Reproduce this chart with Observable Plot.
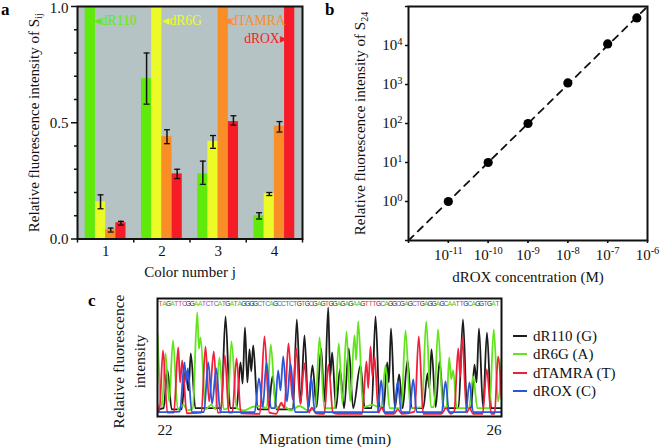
<!DOCTYPE html>
<html>
<head>
<meta charset="utf-8">
<script src="https://cdn.jsdelivr.net/npm/d3@7"></script>
<script src="https://cdn.jsdelivr.net/npm/@observablehq/plot@0.6"></script>
<style>
html,body{margin:0;padding:0;background:#fff;}
#root{position:relative;width:661px;height:447px;overflow:hidden;font-family:"Liberation Serif",serif;color:#111;}
#root svg{position:absolute;overflow:visible;background:transparent;}
.pl{position:absolute;font:bold 17px "Liberation Serif",serif;color:#000;}
.lg{position:absolute;left:533px;font-size:15px;line-height:16px;white-space:nowrap;}
.sw{position:absolute;left:513px;width:14px;height:2px;}
</style>
</head>
<body>
<div id="root"></div>
<script>
// ---------- panel a ----------
const colorNumbers = [1, 2, 3, 4];
const dyes = ["dR110", "dR6G", "dTAMRA", "dROX"];
const dyeColors = ["#5fea0c", "#ecfb28", "#f98e27", "#f61c27"];
const r110Vals = [1, 0.69, 0.28, 0.10];
const r110Low = [null, 0.58, 0.235, 0.086];
const r110High = [null, 0.80, 0.335, 0.113];
const r6gVals = [0.16, 1, 0.42, 0.195];
const r6gLow = [0.13, null, 0.39, 0.187];
const r6gHigh = [0.19, null, 0.445, 0.20];
const tamraVals = [0.04, 0.44, 1, 0.485];
const tamraLow = [0.03, 0.41, null, 0.46];
const tamraHigh = [0.047, 0.47, null, 0.505];
const roxVals = [0.07, 0.28, 0.505, 1];
const roxLow = [0.06, 0.26, 0.49, null];
const roxHigh = [0.076, 0.30, 0.53, null];
const yMajor = [0, 0.5, 1];
const yMinor = [0.1, 0.2, 0.3, 0.4, 0.6, 0.7, 0.8, 0.9];
const groupEdges = [0.5, 1.5, 2.5, 3.5, 4.5];
const dyeNotes = ["◂dR110", "◂dR6G", "◂dTAMRA", "dROX▸"];
const noteGroups = [1.17, 2.36, 3.65, 3.84];
const noteLevels = [0.94, 0.94, 0.94, 0.862];

// ---------- panel b ----------
const concentrations = [1e-11, 1e-10, 1e-9, 1e-8, 1e-7, 5.4e-7];
const intensities = [1, 10, 100, 1100, 11000, 51000];
const fitX = [1e-12, 1e-6];
const fitY = [0.1, 1e5];
const xDecades = [1e-12, 1e-11, 1e-10, 1e-9, 1e-8, 1e-7, 1e-6];
const xLabelled = [1e-11, 1e-10, 1e-9, 1e-8, 1e-7, 1e-6];
const yDecades = [0.1, 1, 10, 100, 1000, 1e4, 1e5];
const yLabelled = [1, 10, 100, 1000, 1e4];

// ---------- panel c ----------
const sequence = "TAGATTCGGAATCTCATGATAGGGGCTCAGCCTCTGTGCGAGTGGAGAGAAGTTTGCAGGCGAGCTGAGGAGCAATTGCAGGTGAT";
const traceNames = ["dR110 (G)", "dR6G (A)", "dTAMRA (T)", "dROX (C)"];
const traceColors = ["#1c1c1c", "#62e41c", "#f01f3c", "#2a56dc"];
const baseColors = {G: "#222", A: "#4fc81c", T: "#ee2a44", C: "#2f62dc"};
const blackT = [22,22.07,22.116,22.165,22.28,22.326,22.36,22.387,22.44,22.74,22.791,22.845,22.92,22.965,22.99,23.017,23.045,23.07,23.09,23.113,23.165,23.29,23.337,23.385,23.575,23.62,23.665,23.709,23.755,23.802,23.85,23.903,23.94,23.985,24.008,24.031,24.075,24.122,24.17,24.224,24.275,24.36,24.41,24.49,24.535,24.585,24.63,24.671,24.69,24.715,24.76,24.81,24.85,24.907,24.955,25.09,25.14,25.16,25.186,25.235,25.28,25.33,25.5,25.552,25.6,25.645,25.686,25.71,25.738,25.785,25.831,25.88,26];
const blackV = [0.01,0.02,0.357,0.01,0.01,0.357,0.18,0.509,0.02,0.02,0.839,0.02,0.02,0.429,0.24,0.741,0.25,0.545,0.35,0.58,0.01,0.01,0.304,0.01,0.01,0.8125,0.06,0.67,0.02,0.402,0.03,0.554,0.08,0.92,0.3,0.518,0.02,0.366,0.02,0.554,0.02,0.402,0.02,0.02,0.839,0.02,0.03,0.429,0.25,0.732,0.02,0.321,0.02,0.446,0.02,0.02,0.33,0.2,0.545,0.03,0.4375,0.02,0.02,0.8125,0.02,0.02,0.41,0.25,0.732,0.03,0.696,0.02,0.02];
const greenT = [22,22.05,22.093,22.135,22.18,22.235,22.3,22.35,22.41,22.462,22.482,22.5,22.56,22.62,22.675,22.72,22.77,22.815,22.86,22.92,23,23.1,23.2,23.27,23.317,23.375,23.45,23.55,23.65,23.75,23.835,23.884,23.94,24.06,24.108,24.15,24.198,24.24,24.29,24.31,24.334,24.39,24.5,24.6,24.651,24.7,24.835,24.884,24.94,25.075,25.124,25.18,25.215,25.262,25.32,25.36,25.392,25.415,25.438,25.48,25.62,25.671,25.72,25.86,25.91,25.96,26];
const greenV = [0.6875,0.03,0.509,0.08,0.625,0.01,0.05,0,0.02,0.875,0.55,0.652,0.01,0.05,0.01,0.473,0.01,0.02,0.616,0.02,0,0.03,0.04,0.02,0.589,0.02,0.05,0,0.04,0,0.02,0.652,0.02,0.02,0.598,0.06,0.705,0.08,0.67,0.45,0.795,0.03,0.05,0.02,0.402,0.02,0.02,0.714,0.02,0.03,0.795,0.03,0.03,0.723,0.02,0.03,0.473,0.28,0.357,0.02,0.02,0.304,0.02,0.02,0.723,0.08,0.464];
const redT = [22,22.02,22.064,22.115,22.19,22.241,22.263,22.287,22.34,22.51,22.558,22.6,22.655,22.7,22.735,22.783,22.83,22.87,22.919,22.97,23.19,23.244,23.3,23.38,23.44,23.475,23.523,23.57,23.613,23.66,23.709,23.76,23.795,23.84,23.94,23.988,24.04,24.1,24.3,24.38,24.43,24.45,24.477,24.5,24.523,24.57,24.605,24.65,24.75,24.795,24.84,24.99,25.038,25.09,25.3,25.355,25.41,25.45,25.497,25.52,25.543,25.595,25.628,25.67,25.78,25.829,25.88,25.92,25.96,26];
const redV = [0.05,-0.02,0.536,-0.02,-0.02,0.5625,0.25,0.446,-0.025,-0.02,0.571,0.08,0.527,-0.02,-0.02,0.491,-0.02,-0.02,0.464,-0.025,-0.03,0.661,-0.02,-0.03,0.07,0.02,0.598,0.1,0.554,0.06,0.42,-0.02,0.025,-0.025,-0.03,0.41,-0.02,-0.03,-0.03,-0.03,0.4375,0.2,0.571,0.3,0.482,-0.02,0.025,-0.03,-0.03,0.01,-0.03,-0.01,0.661,-0.03,-0.03,0.02,-0.03,-0.01,0.554,0.3,0.652,-0.02,0.02,-0.03,-0.03,0.366,-0.03,-0.03,0.482,0.1];
const blueT = [22,22.26,22.314,22.335,22.352,22.4,22.54,22.59,22.635,22.683,22.73,23.13,23.18,23.225,23.267,23.32,23.365,23.403,23.43,23.462,23.505,23.547,23.6,23.745,23.787,23.83,24.56,24.601,24.64,24.75,24.793,24.835,24.93,24.973,25.015,25.305,25.349,25.39,25.585,25.628,25.67,26];
const blueV = [-0.015,-0.01,0.429,0.25,0.375,-0.015,-0.015,0.429,0.06,0.375,-0.015,-0.015,0.286,0.03,0.429,0.02,0.02,0.357,0.18,0.482,0.08,0.42,-0.015,-0.015,0.295,-0.015,-0.015,0.268,-0.015,-0.015,0.259,-0.015,-0.015,0.277,-0.015,-0.015,0.259,-0.015,-0.015,0.25,-0.015,-0.015];

const serif = {fontFamily: "Liberation Serif, serif", background: "transparent", color: "#111"};
const FS = 15;

// Turns "S_{ij}" and "10^{-11}" into real sub/superscript tspans.
function scripts(svg) {
  d3.select(svg).selectAll("text").each(function () {
    const s = this.textContent;
    const m = s.match(/^(.*)([_^])\{(.+)\}$/);
    if (!m) return;
    this.textContent = "";
    const ns = "http://www.w3.org/2000/svg";
    const a = document.createElementNS(ns, "tspan"); a.textContent = m[1];
    const b = document.createElementNS(ns, "tspan"); b.textContent = m[3];
    b.setAttribute("font-size", m[2] === "_" ? 10 : 10.5);
    b.setAttribute("dy", m[2] === "_" ? "0.3em" : "-0.55em");
    this.append(a, b);
  });
  return svg;
}
function place(svg, left, top) {
  svg.style.left = left + "px";
  svg.style.top = top + "px";
  document.getElementById("root").append(scripts(svg));
}
function addLabel(text, cls, left, top) {
  const d = document.createElement("div");
  d.className = cls; d.textContent = text;
  d.style.left = left + "px"; d.style.top = top + "px";
  document.getElementById("root").append(d);
}

// ---------- a ----------
const series = [
  [r110Vals, r110Low, r110High], [r6gVals, r6gLow, r6gHigh],
  [tamraVals, tamraLow, tamraHigh], [roxVals, roxLow, roxHigh]
];
const barW = 0.1813;
const barRows = series.flatMap(([vals, lo, hi], d) => vals.map((v, g) => ({
  x: colorNumbers[g] + (d - 2) * barW, w: barW, v, lo: lo[g], hi: hi[g], dye: dyes[d]
})));
const errRows = barRows.filter(r => r.lo != null);
const capRows = errRows.flatMap(d => [{c: d.x + d.w / 2, y: d.lo}, {c: d.x + d.w / 2, y: d.hi}]);
const capSymbol = {draw(ctx) { ctx.moveTo(-3, 0); ctx.lineTo(3, 0); }};
const notes = dyeNotes.map((t, i) => ({t, x: noteGroups[i], y: noteLevels[i], c: dyeColors[i]}));

place(Plot.plot({
  width: 330, height: 285, marginLeft: 77, marginRight: 28, marginTop: 6, marginBottom: 46.5,
  style: serif,
  x: {domain: [0.5, 4.5]},
  y: {domain: [0, 1]},
  color: {domain: dyes, range: dyeColors},
  marks: [
    Plot.frame({fill: "#b5c3c4", stroke: "none"}),
    Plot.rectY(barRows, {x1: "x", x2: d => d.x + d.w, y1: 0, y2: "v", fill: "dye"}),
    Plot.ruleX(errRows, {x: d => d.x + d.w / 2, y1: "lo", y2: "hi", stroke: "#111", strokeWidth: 1.5}),
    Plot.dot(capRows, {x: "c", y: "y", symbol: capSymbol, stroke: "#111", strokeWidth: 1.3, r: 3}),
    Plot.text(notes, {x: "x", y: "y", text: "t", fill: "c", fontSize: 13.6, textAnchor: "middle"}),
    Plot.axisY({ticks: yMinor, tickSize: 3, tickFormat: () => "", label: null, strokeWidth: 1.5}),
    Plot.axisY({ticks: yMajor.slice(0, 2), tickSize: 6, tickPadding: 3, tickFormat: ".1f", fontSize: FS, strokeWidth: 1.5,
      label: "Relative fluorescence intensity of S_{ij}", labelAnchor: "center", labelArrow: "none", labelOffset: 49}),
    Plot.axisY({ticks: yMajor.slice(2), tickSize: 6, tickFormat: () => "", label: null, strokeWidth: 1.5}),
    Plot.axisY({ticks: yMajor.slice(2), tickSize: 0, tickPadding: 9, dy: 2, tickFormat: ".1f", fontSize: FS, label: null}),
    Plot.axisX({ticks: groupEdges, tickSize: 4, tickFormat: () => "", label: null, strokeWidth: 1.5}),
    Plot.axisX({ticks: colorNumbers, tickSize: 0, tickPadding: 6, tickFormat: d => String(d), fontSize: FS,
      label: "Color number j", labelAnchor: "center", labelArrow: "none", labelOffset: 38}),
    Plot.frame({stroke: "#111", strokeWidth: 2})
  ]
}), 0, 0);

// ---------- b ----------
const pow = d => `10^{${Math.round(Math.log10(d))}}`;
place(Plot.plot({
  width: 331, height: 285, marginLeft: 78, marginRight: 14, marginTop: 6, marginBottom: 45,
  style: serif,
  x: {type: "log", domain: [1e-12, 1e-6]},
  y: {type: "log", domain: [0.1, 1e5]},
  marks: [
    Plot.line(fitX.map((x, i) => ({x, y: fitY[i]})), {x: "x", y: "y", stroke: "#111", strokeWidth: 1.8, strokeDasharray: "7,6"}),
    Plot.dot(concentrations.map((x, i) => ({x, y: intensities[i]})), {x: "x", y: "y", r: 4.6, fill: "#000"}),
    Plot.axisY({ticks: yDecades, tickSize: 3, tickFormat: () => "", label: null, strokeWidth: 1.5}),
    Plot.axisY({ticks: yLabelled, tickSize: 3, tickPadding: 3, tickFormat: pow, fontSize: FS,
      label: "Relative fluorescence intensity of S_{24}", labelAnchor: "center", labelArrow: "none", labelOffset: 54}),
    Plot.axisX({ticks: xDecades, tickSize: 3, tickFormat: () => "", label: null, strokeWidth: 1.5}),
    Plot.axisX({ticks: xLabelled, tickSize: 3, tickPadding: 6, tickFormat: pow, fontSize: FS,
      label: "dROX concentration (M)", labelAnchor: "center", labelArrow: "none", labelOffset: 41}),
    Plot.frame({stroke: "#111", strokeWidth: 2})
  ]
}), 330, 0);

// ---------- c ----------
const toRows = (ts, vs) => ts.map((t, i) => ({t, v: vs[i]}));
const traces = [[blackT, blackV], [greenT, greenV], [redT, redV], [blueT, blueV]];
const letters = sequence.split("").map((b, i, a) => ({b, t: 22.012 + (i + 0.5) / a.length * 3.965}));
place(Plot.plot({
  width: 520, height: 157, marginLeft: 157, marginRight: 19, marginTop: 8, marginBottom: 31,
  style: serif,
  x: {domain: [22, 26], axis: null},
  y: {domain: [-0.054, 1], axis: null},
  marks: [
    ...traces.map(([ts, vs], i) => Plot.line(toRows(ts, vs), {
      x: "t", y: "v", stroke: traceColors[i], strokeWidth: 1.8, curve: "monotone-x", clip: true
    })),
    Plot.text(letters, {x: "t", y: 0.955, text: "b", fill: d => baseColors[d.b], fontSize: 6.6,
      fontFamily: "Liberation Sans, sans-serif"}),
    Plot.text([22], {x: d => d, text: d => String(d), frameAnchor: "bottom", dy: 18, textAnchor: "start", fontSize: FS}),
    Plot.text([26], {x: d => d, text: d => String(d), frameAnchor: "bottom", dy: 18, textAnchor: "end", fontSize: FS}),
    Plot.text([23.95], {x: d => d, text: () => "Migration time (min)", frameAnchor: "bottom", dy: 27, fontSize: 15.5}),
    Plot.text(["Relative fluorescence\nintensity"], {text: d => d, frameAnchor: "left", textAnchor: "middle", rotate: -90, dx: -29.5, dy: 4, fontSize: 15.5, lineHeight: 1.35}),
    Plot.frame({stroke: "#111", strokeWidth: 2})
  ]
}), 0, 290);

// ---------- legend and panel letters ----------
const legendTops = [328, 346, 364.5, 383];
traceNames.forEach((n, i) => {
  addLabel(n, "lg", 533, legendTops[i]);
  const s = document.createElement("div");
  s.className = "sw"; s.style.top = (legendTops[i] + 7) + "px"; s.style.background = traceColors[i];
  document.getElementById("root").append(s);
});
addLabel("a", "pl", 1, 0);
addLabel("b", "pl", 325, 0);
addLabel("c", "pl", 88, 291);
</script>
</body>
</html>
